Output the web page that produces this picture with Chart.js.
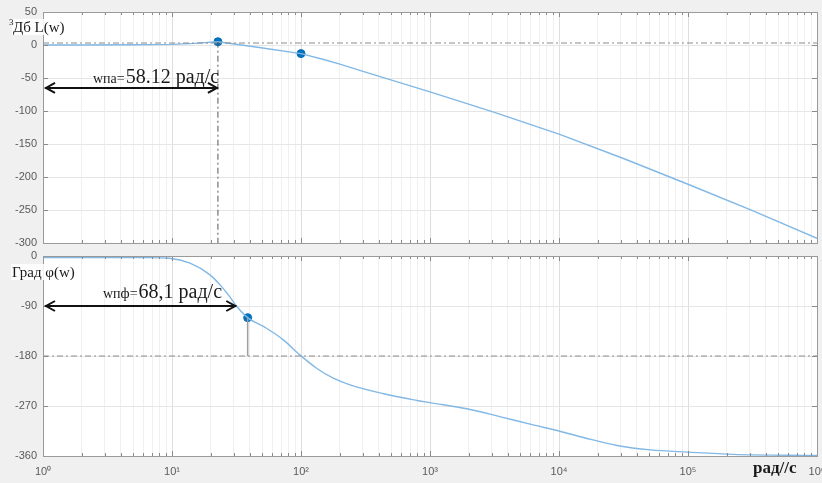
<!DOCTYPE html>
<html>
<head>
<meta charset="utf-8">
<script src="https://cdn.jsdelivr.net/npm/chart.js@4"></script>
<style>
body { margin: 0; background: #f0f0f0; }
#wrap { position: relative; width: 822px; height: 483px; }
canvas { position: absolute; left: 0; }
</style>
</head>
<body>
<div id="wrap">
<canvas id="magChart" width="822" height="250" style="top:0"></canvas>
<canvas id="phaseChart" width="822" height="233" style="top:250px"></canvas>
</div>
<script>
// АЧХ (дБ)
const magFreq = [1, 2, 5, 10, 15, 22.7, 46, 100, 150, 200, 316, 1000, 3162, 10000, 31623, 100000, 316228, 1000000];
const magDb   = [0, 0, 0.3, 1, 2.5, 5, -3.5, -13, -22, -29, -41, -71, -102, -135, -172, -211, -251, -293];
// ФЧХ (град)
const phFreq = [1, 3, 6.75, 9.6, 13.8, 19.7, 23.6, 28, 31.8, 38.6, 54, 73, 98, 132, 178, 240, 437, 794, 1000, 1930, 3470, 6310, 10000, 16200, 28200, 51300, 100000, 224000, 1000000];
const phDeg  = [-3, -3, -3, -4, -13, -34, -52, -73, -91, -111, -130, -151, -178, -202, -220, -232, -248, -260, -264, -275, -289, -304, -315, -328, -341, -349, -353, -357, -359];

const magMarkFreq = [22.7, 100];
const magMarkDb = [5, -13];
const phMarkFreq = [38.6];
const phMarkDeg = [-111];

const magRefDb = 3;       // штрих-пунктир
const phRefDeg = -180;
const wMag = 22.7;        // стрелка wпа
const wPh = 31.5;         // стрелка wпф
const magArrowDb = -65;
const phArrowDeg = -90;

const decadeLabels = ['10\u2070', '10\u00b9', '10\u00b2', '10\u00b3', '10\u2074', '10\u2075', '10\u2076'];

const curveColor = '#82b8e6';
const markColor = '#0072bd';
const refColor = '#8c8c8c';

function pts(xs, ys) { return xs.map((x, i) => ({ x: x, y: ys[i] })); }
function isDecade(v) { return Math.abs(Math.log10(v) - Math.round(Math.log10(v))) < 1e-9; }

function logTicks(scale) {
  let t = [];
  for (let k = 0; k < 6; k++) {
    for (let m = 1; m < 10; m++) t.push({ value: m * Math.pow(10, k) });
  }
  t.push({ value: 1e6 });
  scale.ticks = t;
}

const plotBg = {
  id: 'plotBg',
  beforeDraw(chart) {
    const a = chart.chartArea, c = chart.ctx;
    c.save();
    c.fillStyle = '#ffffff';
    c.fillRect(a.left, a.top, a.right - a.left, a.bottom - a.top);
    c.restore();
  },
  afterDraw(chart) {
    const a = chart.chartArea, c = chart.ctx;
    const xs = chart.scales.x, ys = chart.scales.y;
    c.save();
    c.strokeStyle = '#8a8a8a';
    c.lineWidth = 1;
    c.beginPath();
    xs.ticks.forEach(t => {
      const px = Math.round(xs.getPixelForValue(t.value)) + 0.5;
      const len = isDecade(t.value) ? 5 : 3;
      c.moveTo(px, a.top); c.lineTo(px, a.top + len);
      c.moveTo(px, a.bottom); c.lineTo(px, a.bottom - len);
    });
    ys.ticks.forEach(t => {
      const py = Math.round(ys.getPixelForValue(t.value)) + 0.5;
      c.moveTo(a.left, py); c.lineTo(a.left + 5, py);
      c.moveTo(a.right, py); c.lineTo(a.right - 5, py);
    });
    c.stroke();
    c.strokeStyle = '#9a9a9a';
    c.strokeRect(Math.round(a.left) + 0.5, Math.round(a.top) + 0.5, Math.round(a.right - a.left), Math.round(a.bottom - a.top));
    c.restore();
  }
};

function drawArrow(c, x1, x2, y) {
  c.save();
  c.strokeStyle = '#111';
  c.lineWidth = 2;
  c.beginPath();
  c.moveTo(x1, y); c.lineTo(x2, y);
  c.moveTo(x1 + 10, y - 5); c.lineTo(x1 + 1, y); c.lineTo(x1 + 10, y + 5);
  c.moveTo(x2 - 10, y - 5); c.lineTo(x2 - 1, y); c.lineTo(x2 - 10, y + 5);
  c.stroke();
  c.restore();
}

function drawLabel(c, x, y, small, big) {
  c.save();
  c.fillStyle = '#1a1a1a';
  c.textBaseline = 'alphabetic';
  c.font = '14px "Liberation Serif"';
  c.fillText(small, x, y);
  const w = c.measureText(small).width;
  c.font = '20px "Liberation Serif"';
  c.fillText(big, x + w + 1, y);
  c.restore();
}

function axisLabel(c, x, y, txt, size) {
  c.save();
  c.font = size + 'px "Liberation Serif"';
  const w = c.measureText(txt).width;
  c.fillStyle = 'rgba(255,255,255,0.85)';
  c.fillRect(x - 1, y - size + 2, w + 2, size + 1);
  c.fillStyle = '#1a1a1a';
  c.fillText(txt, x, y);
  c.restore();
}

const magNotes = {
  id: 'magNotes',
  afterDraw(chart) {
    const c = chart.ctx, xs = chart.scales.x, ys = chart.scales.y;
    const y = ys.getPixelForValue(magArrowDb);
    drawArrow(c, xs.getPixelForValue(1) + 2, xs.getPixelForValue(wMag), y);
    drawLabel(c, 93, y - 5, 'wпа=', '58.12 рад/с');
    axisLabel(c, 13, 32, 'Дб L(w)', 15);
    c.save();
    c.font = '9px "Liberation Serif"';
    c.fillStyle = '#1a1a1a';
    c.fillText('3', 9, 25);
    c.restore();
  }
};

const phNotes = {
  id: 'phNotes',
  afterDraw(chart) {
    const c = chart.ctx, xs = chart.scales.x, ys = chart.scales.y;
    const y = ys.getPixelForValue(phArrowDeg);
    drawArrow(c, xs.getPixelForValue(1) + 2, xs.getPixelForValue(wPh), y);
    drawLabel(c, 103, y - 8, 'wпф=', '68,1 рад/с');
    axisLabel(c, 12, 27, 'Град φ(w)', 15);
    c.save();
    c.font = 'bold 17px "Liberation Serif"';
    c.fillStyle = '#1a1a1a';
    c.fillText('рад//с', 753, 223);
    c.restore();
  }
};

function xScale(height, showLabels) {
  return {
    type: 'logarithmic',
    min: 1,
    max: 1e6,
    afterBuildTicks: logTicks,
    afterFit(s) { s.height = height; s.paddingLeft = 0; s.paddingRight = 0; },
    grid: {
      color: ctx => isDecade(ctx.tick.value) ? '#dedede' : '#f0f0f0',
      drawTicks: false
    },
    border: { display: false },
    ticks: {
      display: showLabels,
      autoSkip: false,
      maxRotation: 0,
      padding: 9,
      color: '#5a5a5a',
      font: { family: 'Liberation Sans', size: 11 },
      callback: v => isDecade(v) ? decadeLabels[Math.round(Math.log10(v))] : ''
    }
  };
}

function yScale(min, max, step) {
  return {
    min: min,
    max: max,
    afterFit(s) { s.width = 43; s.paddingTop = 0; s.paddingBottom = 0; },
    grid: { color: '#e6e6e6', drawTicks: false },
    border: { display: false },
    ticks: {
      stepSize: step,
      padding: 6,
      color: '#5a5a5a',
      font: { family: 'Liberation Sans', size: 11 }
    }
  };
}

new Chart(document.getElementById('magChart'), {
  type: 'line',
  data: {
    datasets: [
      {
        data: [{ x: 1, y: magRefDb }, { x: 1e6, y: magRefDb }],
        borderColor: refColor, borderWidth: 1, borderDash: [6, 3, 2, 3], pointRadius: 0
      },
      {
        data: [{ x: wMag, y: magMarkDb[0] }, { x: wMag, y: -300 }],
        borderColor: '#555', borderWidth: 1, borderDash: [6, 3, 2, 3], pointRadius: 0
      },
      {
        data: pts(magFreq, magDb),
        borderColor: curveColor, borderWidth: 1.4, pointRadius: 0, tension: 0
      },
      {
        data: pts(magMarkFreq, magMarkDb),
        showLine: false, pointRadius: 4, pointBackgroundColor: markColor, pointBorderColor: markColor
      }
    ]
  },
  options: {
    responsive: false,
    animation: false,
    layout: { padding: { top: 12, right: 5, left: 0, bottom: 0 } },
    plugins: { legend: { display: false }, tooltip: { enabled: false } },
    scales: { x: xScale(7, false), y: yScale(-300, 50, 50) }
  },
  plugins: [plotBg, magNotes]
});

new Chart(document.getElementById('phaseChart'), {
  type: 'line',
  data: {
    datasets: [
      {
        data: [{ x: 1, y: phRefDeg }, { x: 1e6, y: phRefDeg }],
        borderColor: refColor, borderWidth: 1, borderDash: [6, 3, 2, 3], pointRadius: 0
      },
      {
        data: [{ x: phMarkFreq[0], y: phMarkDeg[0] }, { x: phMarkFreq[0], y: phRefDeg }],
        borderColor: '#a0a0a0', borderWidth: 1.5, pointRadius: 0
      },
      {
        data: pts(phFreq, phDeg),
        borderColor: curveColor, borderWidth: 1.4, pointRadius: 0, cubicInterpolationMode: 'monotone'
      },
      {
        data: pts(phMarkFreq, phMarkDeg),
        showLine: false, pointRadius: 4, pointBackgroundColor: markColor, pointBorderColor: markColor
      }
    ]
  },
  options: {
    responsive: false,
    animation: false,
    layout: { padding: { top: 6, right: 5, left: 0, bottom: 0 } },
    plugins: { legend: { display: false }, tooltip: { enabled: false } },
    scales: { x: xScale(27, true), y: yScale(-360, 0, 90) }
  },
  plugins: [plotBg, phNotes]
});
</script>
</body>
</html>
